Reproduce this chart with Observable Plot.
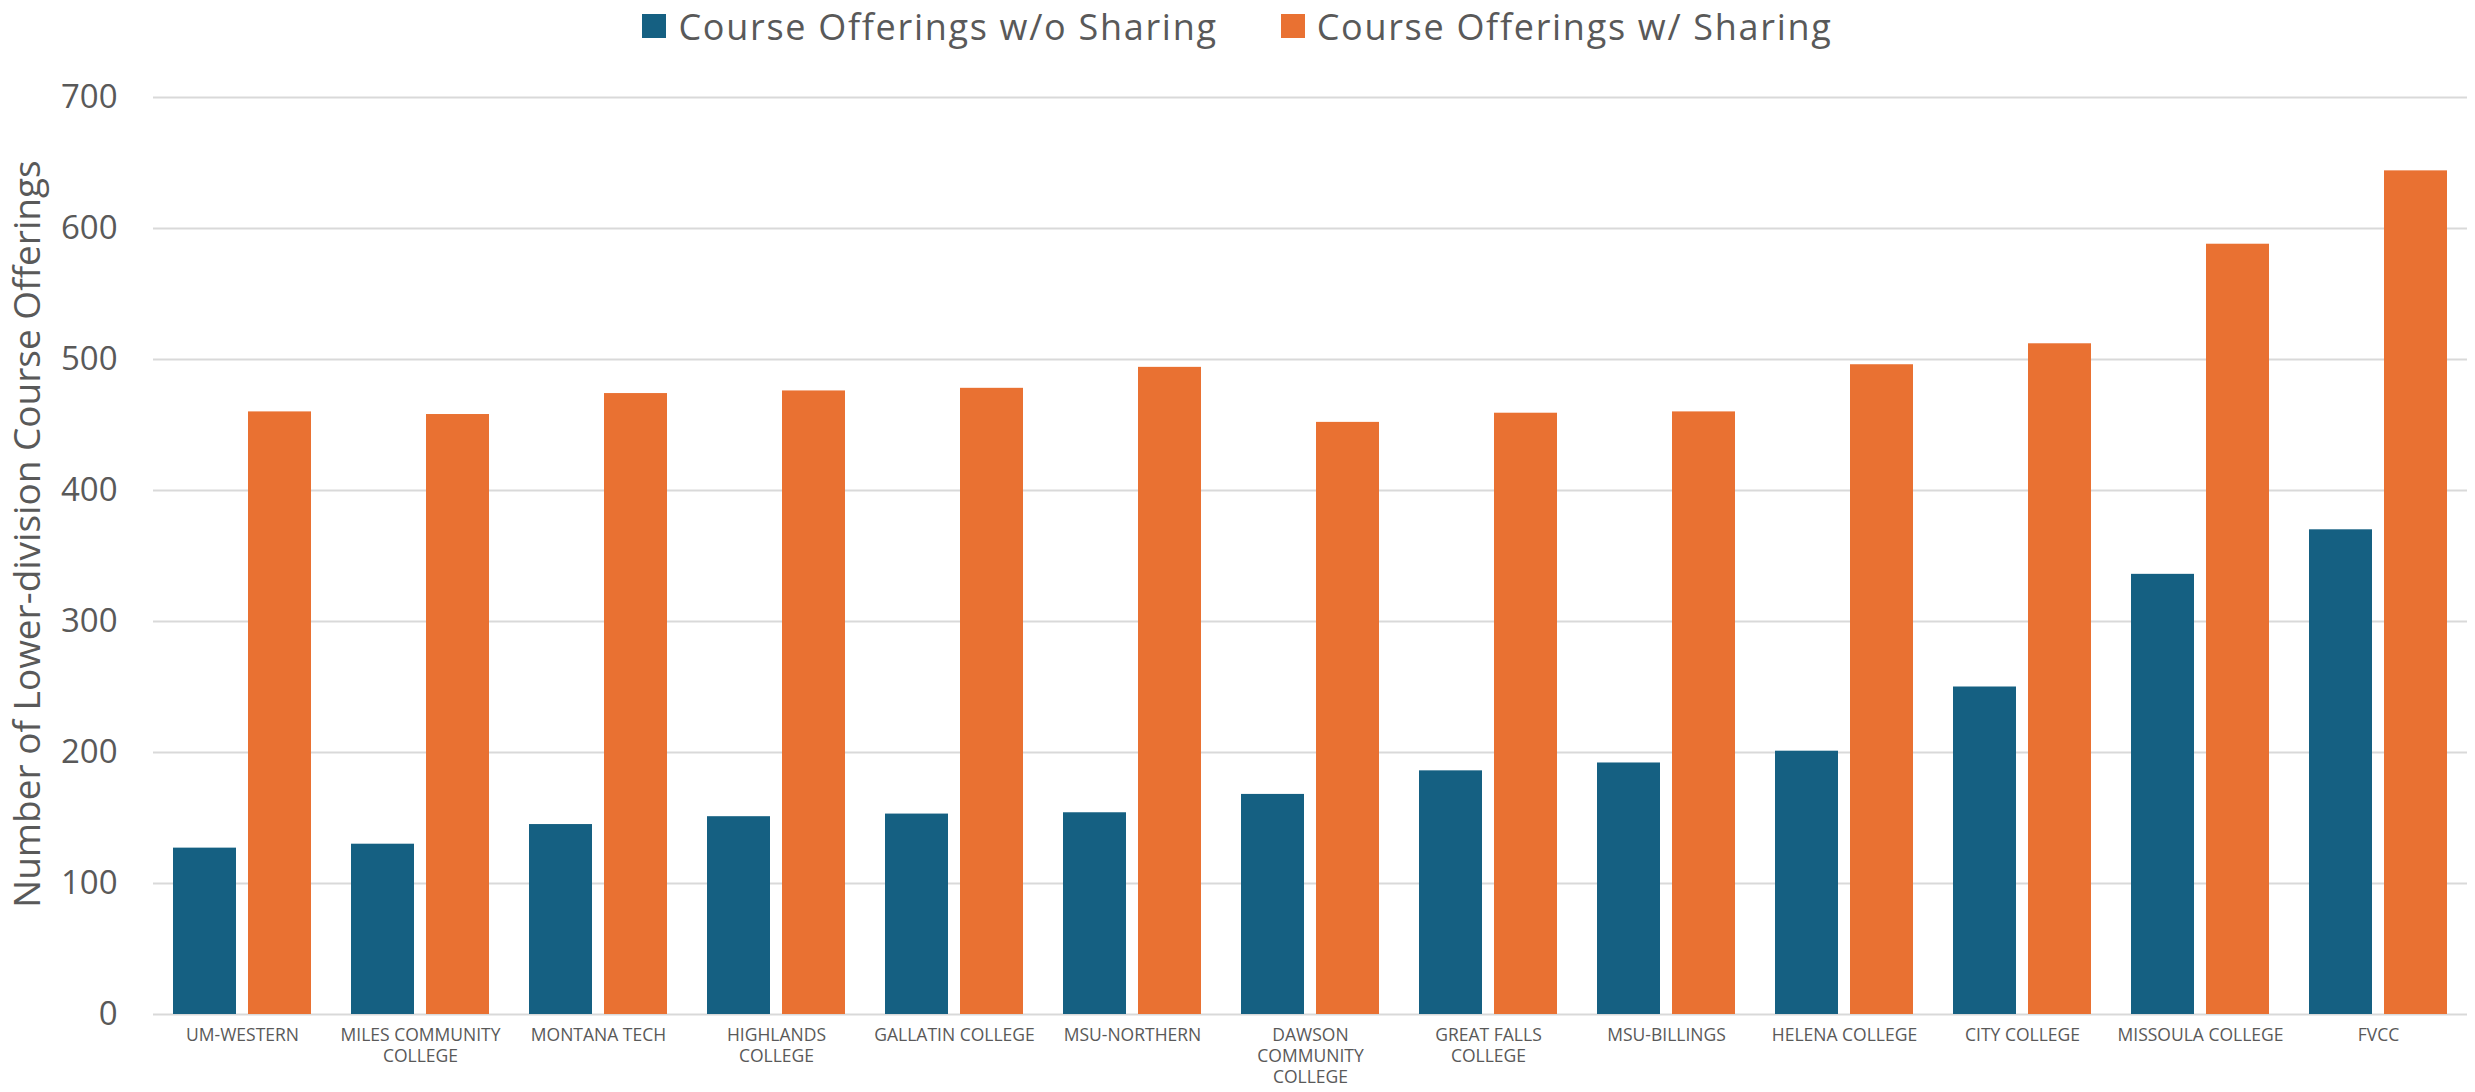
<!DOCTYPE html>
<html>
<head>
<meta charset="utf-8">
<script src="https://cdn.jsdelivr.net/npm/d3@7"></script>
<script src="https://cdn.jsdelivr.net/npm/@observablehq/plot@0.6"></script>
<style>
  html, body { margin: 0; padding: 0; background: #ffffff; overflow: hidden; }
  body { font-family: "Open Sans", sans-serif; width: 2475px; height: 1092px; }
  #legend { height: 52px; display: flex; justify-content: center; align-items: center; gap: 63px; color: #595959; font-size: 36px; letter-spacing: 1.7px; }
  .item { display: flex; align-items: center; }
  .sw { width: 24px; height: 24px; margin-right: 12px; }
</style>
</head>
<body>
<div id="legend"></div>
<div id="chart"></div>
<script>
const categories = ["UM-WESTERN", "MILES COMMUNITY COLLEGE", "MONTANA TECH", "HIGHLANDS COLLEGE", "GALLATIN COLLEGE", "MSU-NORTHERN", "DAWSON COMMUNITY COLLEGE", "GREAT FALLS COLLEGE", "MSU-BILLINGS", "HELENA COLLEGE", "CITY COLLEGE", "MISSOULA COLLEGE", "FVCC"];
const tickLabels = ["UM-WESTERN", "MILES COMMUNITY\nCOLLEGE", "MONTANA TECH", "HIGHLANDS\nCOLLEGE", "GALLATIN COLLEGE", "MSU-NORTHERN", "DAWSON\nCOMMUNITY\nCOLLEGE", "GREAT FALLS\nCOLLEGE", "MSU-BILLINGS", "HELENA COLLEGE", "CITY COLLEGE", "MISSOULA COLLEGE", "FVCC"];
const withoutSharing = [127, 130, 145, 151, 153, 154, 168, 186, 192, 201, 250, 336, 370];
const withSharing = [460, 458, 474, 476, 478, 494, 452, 459, 460, 496, 512, 588, 644];
const seriesNames = ["Course Offerings w/o Sharing", "Course Offerings w/ Sharing"];
const seriesColors = ["#156082", "#E97132"];
const yTicks = [0, 100, 200, 300, 400, 500, 600, 700];
const yTitle = "Number of Lower-division Course Offerings";

const data = categories.map((c, i) => ({college: c, label: tickLabels[i], without: withoutSharing[i], with: withSharing[i]}));

// Legend (HTML, above the SVG)
const legend = document.getElementById("legend");
seriesNames.forEach((name, i) => {
  const item = document.createElement("div");
  item.className = "item";
  const sw = document.createElement("div");
  sw.className = "sw";
  sw.style.background = seriesColors[i];
  const t = document.createElement("span");
  t.textContent = name;
  item.appendChild(sw);
  item.appendChild(t);
  legend.appendChild(item);
});

const chart = Plot.plot({
  width: 2475,
  height: 1040,
  marginTop: 45,
  marginBottom: 78,
  marginLeft: 153,
  marginRight: 8,
  style: {fontFamily: "Open Sans, sans-serif", color: "#595959", background: "transparent"},
  x: {domain: categories, paddingInner: 40 / 178, paddingOuter: 20 / 178, axis: null},
  y: {domain: [0, 700], axis: null},
  marks: [
    Plot.gridY({ticks: yTicks, stroke: "#d9d9d9", strokeOpacity: 1, strokeWidth: 2}),
    Plot.barY(data, {x: "college", y: "without", fill: seriesColors[0], insetRight: 75}),
    Plot.barY(data, {x: "college", y: "with", fill: seriesColors[1], insetLeft: 75}),
    Plot.axisY({ticks: yTicks, tickSize: 0, tickPadding: 36, fontSize: 33, label: null, fill: "#595959"}),
    Plot.text(data, {x: "college", text: "label", frameAnchor: "bottom", lineAnchor: "top", dy: 11, fontSize: 17.5, lineHeight: 1.22, fill: "#595959", textAnchor: "middle"}),
    Plot.text([yTitle], {text: d => d, frameAnchor: "left", rotate: -90, dx: -125, dy: -22, fontSize: 37, fill: "#595959", textAnchor: "middle", lineAnchor: "middle"})
  ]
});
document.getElementById("chart").appendChild(chart);
</script>
</body>
</html>
